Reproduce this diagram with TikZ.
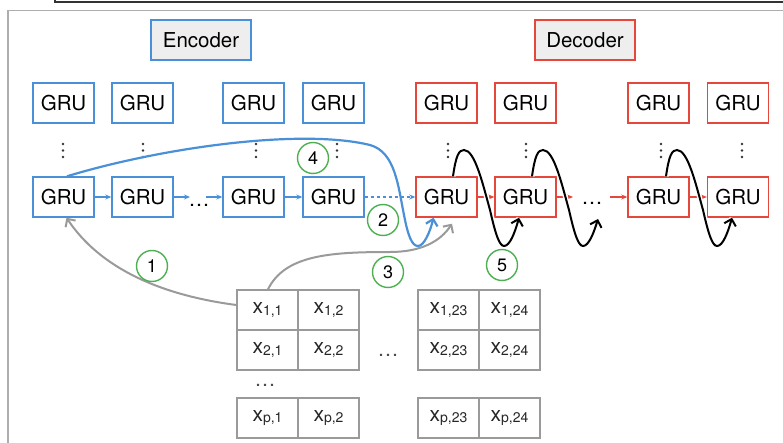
\documentclass[tikz,border=0pt]{standalone}
\usepackage{fontspec}
\setmainfont{TeX Gyre Heros}
\usetikzlibrary{arrows.meta,calc}
\definecolor{eblue}{HTML}{4A90D9}
\definecolor{dred}{HTML}{E5473B}
\definecolor{cgreen}{HTML}{4CAF50}
\definecolor{lgrey}{HTML}{9A9A9A}
\definecolor{boxfill}{HTML}{EEEEEE}
\newcommand\cellx[1]{{\fontsize{21}{24}\selectfont x}{\fontsize{14}{16}\selectfont\raisebox{-1.5pt}{#1}}}
\begin{document}
\begin{tikzpicture}[x=1pt,y=-1pt,
 gru/.style={draw, line width=1.4pt, minimum width=61pt, minimum height=40pt, inner sep=0pt, font=\fontsize{20.5}{24}\selectfont},
 enc/.style={gru, draw=eblue},
 dec/.style={gru, draw=dred},
 titlebox/.style={draw, fill=boxfill, line width=1.4pt, minimum width=100pt, minimum height=40pt, inner sep=0pt, font=\fontsize{20.5}{24}\selectfont},
 cell/.style={draw=lgrey, line width=1.4pt, minimum width=61pt, minimum height=40pt, inner sep=0pt, text=black!85},
 num/.style={circle, draw=cgreen, line width=1.4pt, minimum size=31pt, inner sep=0pt, font=\fontsize{18}{20}\selectfont},
 earr/.style={eblue, line width=1.1pt, -{Stealth[length=6pt,width=5pt]}},
 darr/.style={dred, line width=1.1pt, -{Stealth[length=6pt,width=5pt]}},
 barb/.style={-{Straight Barb[length=6pt,width=12pt]}},
 wave/.style={black, line width=2pt, barb, preaction={draw=white, line width=5pt, -}},
 dotsn/.style={inner sep=0pt, font=\fontsize{21}{24}\selectfont},
 vdot/.style={fill=black!80},
]
\useasboundingbox (0,0) rectangle (783,443);
% frames
\draw[black!80, line width=1.3pt] (55,-3) -- (55,2) -- (790,2);
\draw[lgrey!80, line width=1.6pt] (8,450) -- (8,10.5) -- (790,10.5);

% titles
\node[titlebox, draw=eblue] (enctitle) at (201,40) {Encoder};
\node[titlebox, draw=dred] (dectitle) at (585,40) {Decoder};

% top rows
\node[enc] (t1) at (63.5,103) {GRU};
\node[enc] (t2) at (142.5,103) {GRU};
\node[enc] (t3) at (253.5,103) {GRU};
\node[enc] (t4) at (333.5,103) {GRU};
\node[dec] (t5) at (446.5,103) {GRU};
\node[dec] (t6) at (525.5,103) {GRU};
\node[dec] (t7) at (658.5,103) {GRU};
\node[dec] (t8) at (738,103) {GRU};

% vertical dots
\foreach \x in {63,143,256,337,448,526,661,742}{
  \foreach \y in {144,150.5,157}{
    \fill[vdot] (\x,\y) circle (1.4pt);
  }
}

% middle rows
\node[enc] (e1) at (63.5,197) {GRU};
\node[enc] (e2) at (142.5,197) {GRU};
\node[enc] (e3) at (253.5,197) {GRU};
\node[enc] (e4) at (333.5,197) {GRU};
\node[dec] (d1) at (446.5,197) {GRU};
\node[dec] (d2) at (525.5,197) {GRU};
\node[dec] (d3) at (658.5,197) {GRU};
\node[dec] (d4) at (738,197) {GRU};

% horizontal dots
\node[dotsn] (edots) at (199,205) {\ldots};
\node[dotsn] (ddots) at (592,203) {\ldots};

% encoder arrows
\coordinate (ea) at (190,197);
\coordinate (eb) at (206,197);
\draw[earr] (e1) -- (e2);
\draw[earr] (e2) -- (ea);
\draw[earr] (eb) -- (e3);
\draw[earr] (e3) -- (e4);
\draw[earr, dash pattern=on 3.5pt off 2.5pt] (e4) -- (d1);

% decoder arrows
\coordinate (da) at (573,197);
\coordinate (db) at (610,197);
\draw[darr] (d1) -- (d2);
\draw[darr] (d2) -- (da);
\draw[darr] (db) -- (d3);
\draw[darr] (d3) -- (d4);

% matrices
\node[cell] (c11) at (267.5,310) {\cellx{1,1}};
\node[cell] (c12) at (328.5,310) {\cellx{1,2}};
\node[cell] (c21) at (267.5,350) {\cellx{2,1}};
\node[cell] (c22) at (328.5,350) {\cellx{2,2}};
\node[cell] (cp1) at (267.5,418) {\cellx{p,1}};
\node[cell] (cp2) at (328.5,418) {\cellx{p,2}};
\node[cell] (c123) at (448.5,310) {\cellx{1,23}};
\node[cell] (c124) at (509.5,310) {\cellx{1,24}};
\node[cell] (c223) at (448.5,350) {\cellx{2,23}};
\node[cell] (c224) at (509.5,350) {\cellx{2,24}};
\node[cell] (cp23) at (448.5,418) {\cellx{p,23}};
\node[cell] (cp24) at (509.5,418) {\cellx{p,24}};
\node[dotsn, text=black!70] (mdots1) at (388,355) {\ldots};
\node[dotsn, text=black!70] (mdots2) at (265,385) {\ldots};

% grey arrows 1 and 3
\draw[lgrey, line width=2pt, barb] (c11.west |- 0,305) .. controls (160,295) and (100,268) .. ([xshift=3pt]e1.south);
\draw[lgrey, line width=2pt, barb] ([xshift=0.5pt]c11.north) .. controls (285,255) and (330,252) .. (390,252) .. controls (420,252) and (440,242) .. ([xshift=5.5pt,yshift=-6pt]d1.south);

% blue curve 4
\draw[eblue, line width=2.2pt, barb] ([xshift=3.5pt]e1.north) .. controls (160,148) and (300,128) .. (370,145)
  .. controls (395,152) and (398,185) .. (404,215)
  .. controls (408,236) and (412,246) .. (418,246)
  .. controls (424,246) and (430,232) .. ([xshift=-13pt]d1.south);

% black waves
\coordinate (wend) at (598,219);
\draw[wave] ([xshift=6.5pt]d1.north) .. controls (456,155) and (459,150) .. (464,150)
  .. controls (475,150) and (483,185) .. (490,210)
  .. controls (495,232) and (499,246) .. (504,246)
  .. controls (510,246) and (515,232) .. ([xshift=-6.5pt]d2.south);
\draw[wave] ([xshift=6.5pt]d2.north) .. controls (535,155) and (538,150) .. (543,150)
  .. controls (554,150) and (562,185) .. (569,210)
  .. controls (574,232) and (578,246) .. (583,246)
  .. controls (589,246) and (594,232) .. (wend);
\draw[wave] ([xshift=7.5pt]d3.north) .. controls (669,155) and (672,150) .. (677,150)
  .. controls (688,150) and (696,185) .. (703,210)
  .. controls (708,232) and (712,246) .. (717,246)
  .. controls (723,246) and (728,232) .. ([xshift=-6pt]d4.south);

% numbered circles
\node[num] (n1) at (152,266) {1};
\node[num] (n2) at (383,220) {2};
\node[num] (n3) at (388,272) {3};
\node[num] (n4) at (313,158) {4};
\node[num] (n5) at (502,265) {5};
\end{tikzpicture}
\end{document}
